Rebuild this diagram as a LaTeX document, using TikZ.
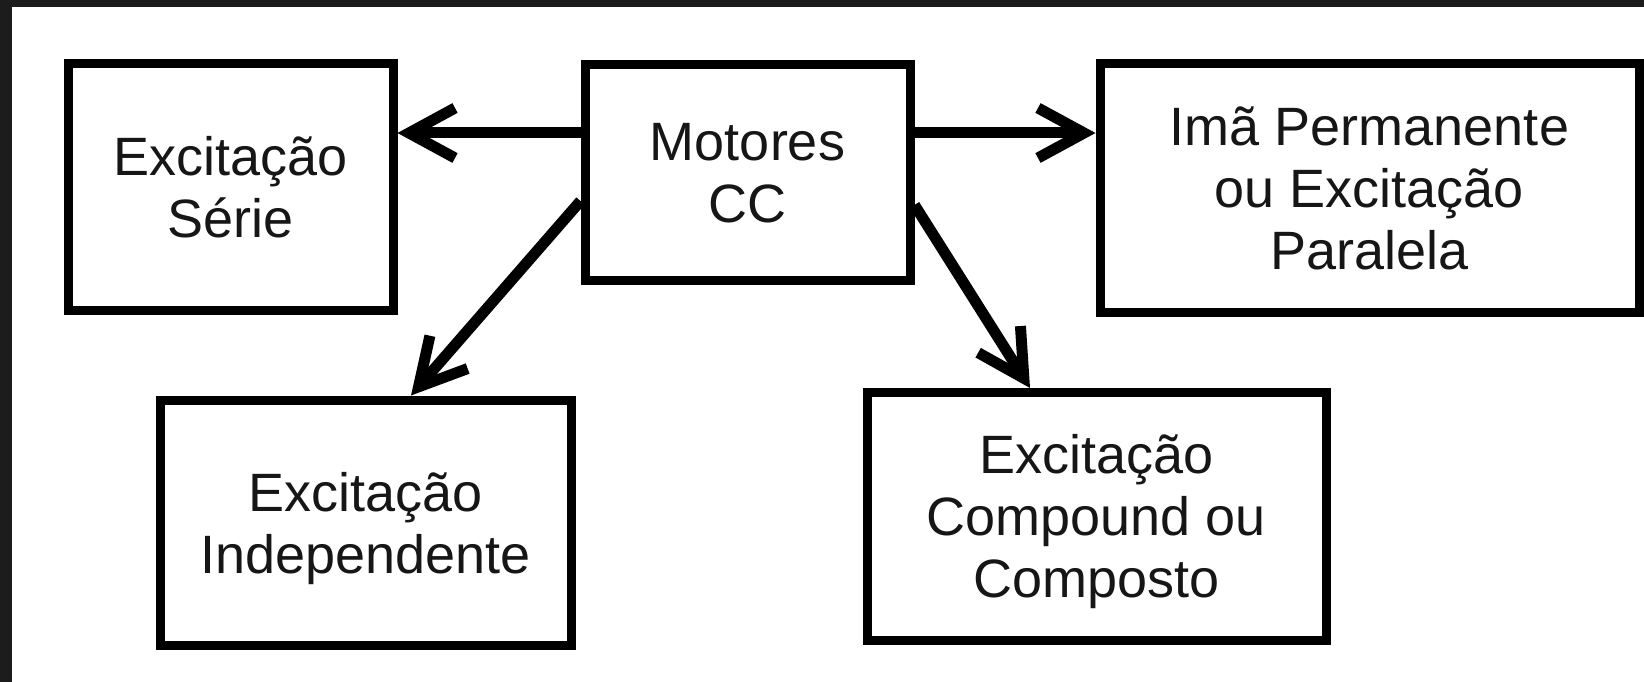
\documentclass[tikz,border=0pt]{standalone}
\usepackage{fontspec}
\setmainfont{Liberation Sans}
\usetikzlibrary{arrows.meta,calc}
\definecolor{bgdark}{HTML}{1C1C1C}
\definecolor{textcol}{HTML}{161616}
\newcommand\capTop{\rule{0pt}{1em}}
\newcommand\capBot{\rule[-0.284em]{0pt}{0.284em}}
\begin{document}
\begin{tikzpicture}[x=1pt,y=-1pt,
  box/.style={draw=black, line width=9pt, inner sep=0pt, align=center,
    text=textcol, font=\fontsize{54}{62}\selectfont},
  conn/.style={draw=black, line width=11pt,
    -{Straight Barb[length=46pt,width=50pt]}}]
\useasboundingbox (0,0) rectangle (1644,682);
\fill[bgdark] (0,0) rectangle (1644,682);
\fill[white] (12,7) rectangle (1644,682);

\node[box, minimum width=324.5pt, minimum height=246.5pt] (serie) at (230.75,186.75)
  {\capTop Excitação\\Série\capBot};
\node[box, minimum width=325pt, minimum height=215pt] (motores) at (747.5,172.5)
  {\capTop Motores\\CC\capBot};
\node[box, minimum width=539pt, minimum height=248pt] (ima) at (1369.5,188)
  {\capTop Imã Permanente\\ou Excitação\\Paralela\capBot};
\node[box, minimum width=411pt, minimum height=245.5pt] (indep) at (365.5,522.75)
  {\capTop Excitação\\Independente\capBot};
\node[box, minimum width=459pt, minimum height=247.5pt] (comp) at (1096.5,516.25)
  {\capTop Excitação\\Compound ou\\Composto\capBot};

\coordinate (h) at (0,133);
\coordinate (d1) at (0,201);
\coordinate (d2) at (0,205);
\coordinate (x1) at (411,0);
\coordinate (x2) at (1030,0);

\draw[conn] (motores.west |- h) -- (serie.east |- h);
\draw[conn] (motores.east |- h) -- (ima.west |- h);
\draw[conn] (motores.west |- d1) -- (indep.north -| x1);
\draw[conn] (motores.east |- d2) -- (comp.north -| x2);
\end{tikzpicture}
\end{document}
